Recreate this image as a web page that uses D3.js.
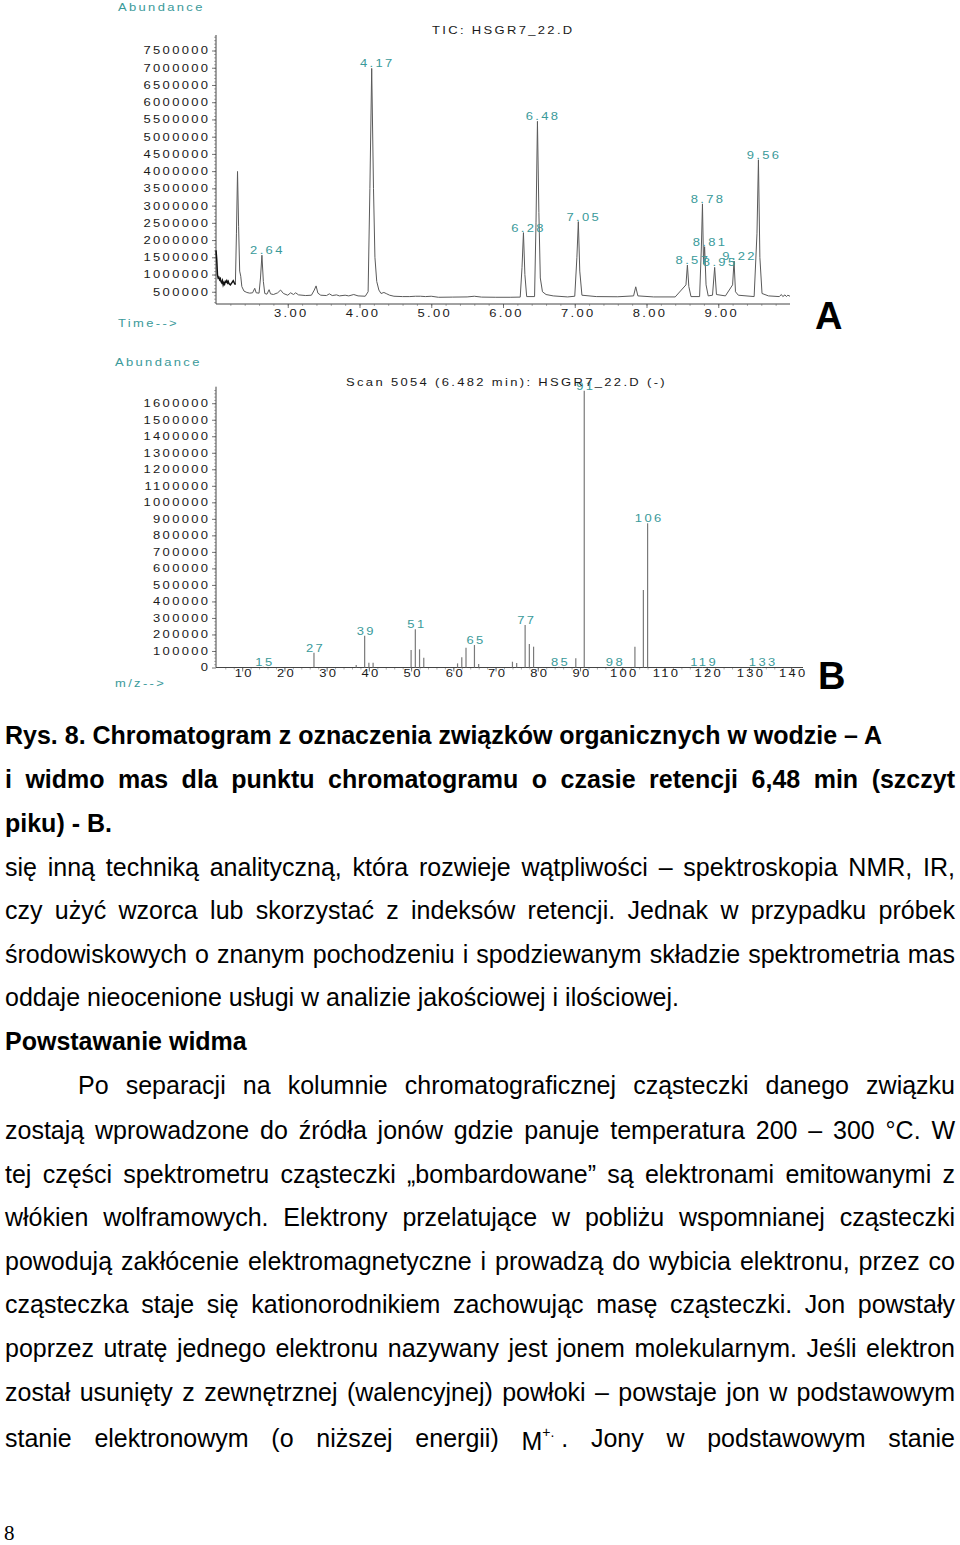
<!DOCTYPE html>
<html><head><meta charset="utf-8">
<script src="https://cdn.jsdelivr.net/npm/d3@7"></script>
<style>
html,body{margin:0;padding:0;background:#fff;}
svg{display:block;}
</style></head><body>
<svg id="page" width="960" height="1545"></svg>
<script>
// ---------------- DATA ----------------
// Chromatogram (TIC) trace: retention time (min) and abundance
const rtTrace = [2.000,2.010,2.020,2.030,2.040,2.050,2.060,2.070,2.080,2.090,2.100,2.110,2.120,2.130,2.140,2.150,2.160,2.170,2.180,2.190,2.200,2.220,2.240,2.255,2.270,
  2.285,2.300,2.315,2.330,2.345,2.360,2.390,2.430,2.470,2.510,2.540,2.560,2.600,2.620,2.640,2.660,2.680,2.710,2.740,2.760,2.800,2.860,2.900,2.940,3.000,3.040,3.080,3.110,3.150,3.250,3.330,3.370,3.395,3.420,3.460,3.540,3.580,3.620,3.680,3.720,3.800,3.850,3.920,3.980,4.080,4.120,4.145,4.170,4.195,4.215,4.240,4.270,4.300,4.340,4.380,4.420,4.480,4.600,4.700,4.780,4.850,4.920,5.000,5.100,5.300,5.500,5.600,5.700,5.900,6.100,6.240,6.265,6.285,6.305,6.330,6.440,6.460,6.480,6.500,6.520,6.550,6.600,6.700,6.900,7.000,7.030,7.050,7.070,7.100,7.300,7.600,7.820,7.850,7.880,8.100,8.400,8.550,8.570,8.590,8.620,8.740,8.765,8.780,8.795,8.810,8.830,8.860,8.920,8.950,8.975,9.100,9.200,9.220,9.240,9.280,9.500,9.540,9.560,9.580,9.610,9.700,9.850,9.880,9.900,9.930,9.950,9.970,10.000];
const abTrace = [1700000,1450000,1000000,900000,920000,850000,880000,790000,760000,820000,700000,760000,720000,800000,780000,820000,760000,800000,740000,720000,700000,760000,820000,760000,710000,
  2200000,3990000,2400000,1100000,950000,650000,520000,480000,460000,470000,600000,470000,460000,900000,1560000,800000,450000,430000,560000,440000,420000,470000,550000,450000,400000,470000,420000,470000,410000,390000,400000,550000,670000,460000,400000,390000,440000,390000,410000,380000,400000,380000,420000,380000,370000,500000,3500000,6980000,3500000,1500000,800000,550000,450000,480000,440000,400000,370000,360000,360000,370000,370000,360000,370000,340000,345000,350000,370000,345000,340000,340000,345000,1200000,2215000,1000000,360000,360000,2500000,5444000,2800000,900000,500000,420000,380000,350000,370000,1500000,2535000,1100000,400000,360000,355000,380000,644000,380000,350000,350000,700000,1276000,650000,360000,360000,1800000,3050000,1300000,1808000,700000,380000,400000,1208000,420000,380000,700000,1392000,500000,400000,360000,2200000,4330000,1500000,450000,380000,360000,420000,360000,410000,360000,400000,370000];
const peakLabelRT = [2.64, 4.17, 6.28, 6.48, 7.05, 8.57, 8.78, 8.81, 8.95, 9.22, 9.56];
const rtTickValues = [3, 4, 5, 6, 7, 8, 9];
const abTickValuesA = [500000,1000000,1500000,2000000,2500000,3000000,3500000,4000000,4500000,5000000,5500000,6000000,6500000,7000000,7500000];

// Mass spectrum (scan 5054, 6.482 min)
const mzValues    = [15, 27, 37, 39, 40, 41, 50, 51, 52, 53, 61, 62, 63, 65, 66, 74, 75, 77, 78, 79, 85, 89, 91, 98, 103, 105, 106, 119, 133];
const mzIntensity = [4000, 90000, 15000, 192000, 29000, 29000, 106000, 231000, 110000, 59000, 25000, 62000, 120000, 136000, 21000, 35000, 27000, 257000, 142000, 126000, 4000, 56000, 1675000, 4000, 126000, 469000, 873000, 3000, 3000];
const mzLabelled  = [15, 27, 39, 51, 65, 77, 85, 91, 98, 106, 119, 133];
const mzTickValues = [10,20,30,40,50,60,70,80,90,100,110,120,130,140];
const abTickValuesB = [0,100000,200000,300000,400000,500000,600000,700000,800000,900000,1000000,1100000,1200000,1300000,1400000,1500000,1600000];

// Text of the page
const captionLines = [
  {text: "Rys. 8. Chromatogram z oznaczenia związków organicznych w wodzie – A", justify: false, bold: true, x: 5, y: 744},
  {text: "i widmo mas dla punktu chromatogramu o czasie retencji 6,48 min (szczyt", justify: true, bold: true, x: 5, y: 788},
  {text: "piku) - B.", justify: false, bold: true, x: 5, y: 832}
];
const bodyLines = [
  {text: "się inną techniką analityczną, która rozwieje wątpliwości – spektroskopia NMR, IR,", justify: true, x: 5, y: 876},
  {text: "czy użyć wzorca lub skorzystać z indeksów retencji. Jednak w przypadku próbek", justify: true, x: 5, y: 919},
  {text: "środowiskowych o znanym pochodzeniu i spodziewanym składzie spektrometria mas", justify: true, x: 5, y: 963},
  {text: "oddaje nieocenione usługi w analizie jakościowej i ilościowej.", justify: false, x: 5, y: 1006},
  {text: "Powstawanie widma", justify: false, bold: true, x: 5, y: 1050},
  {text: "Po separacji na kolumnie chromatograficznej cząsteczki danego związku", justify: true, x: 78, y: 1094},
  {text: "zostają wprowadzone do źródła jonów gdzie panuje temperatura 200 – 300 °C. W", justify: true, x: 5, y: 1139},
  {text: "tej części spektrometru cząsteczki „bombardowane” są elektronami emitowanymi z", justify: true, x: 5, y: 1183},
  {text: "włókien wolframowych. Elektrony przelatujące w pobliżu wspomnianej cząsteczki", justify: true, x: 5, y: 1226},
  {text: "powodują zakłócenie elektromagnetyczne i prowadzą do wybicia elektronu, przez co", justify: true, x: 5, y: 1270},
  {text: "cząsteczka staje się kationorodnikiem zachowując masę cząsteczki. Jon powstały", justify: true, x: 5, y: 1313},
  {text: "poprzez utratę jednego elektronu nazywany jest jonem molekularnym. Jeśli elektron", justify: true, x: 5, y: 1357},
  {text: "został usunięty z zewnętrznej (walencyjnej) powłoki – powstaje jon w podstawowym", justify: true, x: 5, y: 1401},
  {text: "stanie elektronowym (o niższej energii) [M] Jony w podstawowym stanie", justify: true, x: 5, y: 1447}
];

// ---------------- DRAWING ----------------
const svg = d3.select('#page');
const TEAL = '#3a9a9a';
const CF = "'Liberation Sans', Arial, Helvetica, sans-serif";
const SX = 1.3, LS = 1.8, FS = 10;

function chartText(parent, str, x, y, anchor, fill) {
  return parent.append('text')
    .attr('transform', `translate(${x},${y}) scale(${SX},1)`)
    .attr('font-family', CF).attr('font-size', FS).attr('letter-spacing', LS)
    .attr('text-anchor', anchor || 'start').attr('fill', fill || '#1a1a1a')
    .text(str);
}
function styleTicks(g, isLeft) {
  g.select('.domain').remove();
  g.selectAll('.tick line').attr('stroke', '#555').attr('stroke-width', 0.8);
  g.selectAll('.tick text')
    .attr('font-family', CF).attr('font-size', FS).attr('letter-spacing', LS).attr('fill', '#1a1a1a')
    .attr('transform', `scale(${SX},1)`);
  if (isLeft) g.selectAll('.tick text').attr('x', -4.3).attr('dy', '0.34em');
  else g.selectAll('.tick text').attr('x', 2.4).attr('y', 5.5).attr('dy', '0.71em');
}

// ===== Chart A: chromatogram =====
const gA = svg.append('g');
const xA = d3.scaleLinear().domain([2.0, 10.0]).range([216, 790]);
const yA = d3.scaleLinear().domain([145000, 7950000]).range([304, 35]);

// minor ticks
gA.append('g').attr('transform', 'translate(216,0)')
  .call(d3.axisLeft(yA).tickValues(d3.range(200000, 7950000, 100000)).tickSize(2).tickFormat(''))
  .call(g => { g.select('.domain').remove(); g.selectAll('line').attr('stroke', '#777').attr('stroke-width', 0.6); });
gA.append('g').attr('transform', 'translate(0,304)')
  .call(d3.axisBottom(xA).tickValues(d3.range(2.2, 10.0, 0.2)).tickSize(2).tickFormat(''))
  .call(g => { g.select('.domain').remove(); g.selectAll('line').attr('stroke', '#777').attr('stroke-width', 0.6); });
// major ticks
gA.append('g').attr('transform', 'translate(216,0)')
  .call(d3.axisLeft(yA).tickValues(abTickValuesA).tickSize(4).tickPadding(0).tickFormat(d3.format('d')))
  .call(g => styleTicks(g, true));
gA.append('g').attr('transform', 'translate(0,304)')
  .call(d3.axisBottom(xA).tickValues(rtTickValues).tickSize(4).tickFormat(d3.format('.2f')))
  .call(g => styleTicks(g, false));
// axis lines
gA.append('line').attr('x1', xA(2.0)).attr('x2', xA(10.0)).attr('y1', 304).attr('y2', 304).attr('stroke', '#444');
gA.append('line').attr('x1', 216).attr('x2', 216).attr('y1', yA(145000)).attr('y2', yA(7950000)).attr('stroke', '#444');

const tracePts = rtTrace.map((t, i) => [t, abTrace[i]]);
const lineA = d3.line().x(d => xA(d[0])).y(d => yA(d[1]));
gA.append('path').datum(tracePts.filter(d => d[0] >= 2.265))
  .attr('d', lineA).attr('fill', 'none').attr('stroke', '#5a5a5a').attr('stroke-width', 1);
gA.append('path').datum(tracePts.filter(d => d[0] <= 2.27))
  .attr('d', lineA).attr('fill', 'none').attr('stroke', '#111').attr('stroke-width', 1.5);

peakLabelRT.forEach(rt => {
  let best = tracePts[0];
  tracePts.forEach(p => { if (Math.abs(p[0] - rt) < Math.abs(best[0] - rt)) best = p; });
  chartText(gA, rt.toFixed(2), xA(rt) + 5.5, yA(best[1]) - 1, 'middle', TEAL);
});

chartText(gA, 'Abundance', 118, 11, 'start', TEAL);
chartText(gA, 'Time-->', 118, 327, 'start', TEAL);
chartText(gA, 'TIC: HSGR7_22.D', 432, 34, 'start', '#1a1a1a');
svg.append('text').attr('x', 815).attr('y', 329).attr('font-family', CF).attr('font-weight', 700)
  .attr('font-size', 38).attr('fill', '#000').text('A');

// ===== Chart B: mass spectrum =====
const gB = svg.append('g');
const xB = d3.scaleLinear().domain([3.8, 142.8]).range([216, 803]);
const yB = d3.scaleLinear().domain([0, 1700000]).range([667.5, 386.7]);

gB.append('g').attr('transform', 'translate(216,0)')
  .call(d3.axisLeft(yB).tickValues(d3.range(20000, 1700000, 20000)).tickSize(2).tickFormat(''))
  .call(g => { g.select('.domain').remove(); g.selectAll('line').attr('stroke', '#888').attr('stroke-width', 0.6); });
gB.append('g').attr('transform', 'translate(0,667.5)')
  .call(d3.axisBottom(xB).tickValues(d3.range(6, 142, 2)).tickSize(2).tickFormat(''))
  .call(g => { g.select('.domain').remove(); g.selectAll('line').attr('stroke', '#777').attr('stroke-width', 0.6); });
gB.append('g').attr('transform', 'translate(216,0)')
  .call(d3.axisLeft(yB).tickValues(abTickValuesB).tickSize(4).tickPadding(0).tickFormat(d3.format('d')))
  .call(g => styleTicks(g, true));
gB.append('g').attr('transform', 'translate(0,667.5)')
  .call(d3.axisBottom(xB).tickValues(mzTickValues).tickSize(4).tickFormat(d3.format('d')))
  .call(g => { styleTicks(g, false); g.selectAll('.tick text').attr('x', 1.2).attr('y', 2.5); });
gB.append('line').attr('x1', xB(3.8)).attr('x2', xB(142.8)).attr('y1', 667.5).attr('y2', 667.5).attr('stroke', '#444');
gB.append('line').attr('x1', 216).attr('x2', 216).attr('y1', yB(0)).attr('y2', yB(1700000)).attr('stroke', '#444');

gB.selectAll('line.bar').data(mzValues.map((m, i) => [m, mzIntensity[i]])).enter()
  .append('line').attr('class', 'bar')
  .attr('x1', d => xB(d[0])).attr('x2', d => xB(d[0]))
  .attr('y1', yB(0)).attr('y2', d => yB(d[1]))
  .attr('stroke', '#7a7a7a').attr('stroke-width', 1.2);

mzLabelled.forEach(m => {
  const v = mzIntensity[mzValues.indexOf(m)];
  chartText(gB, String(m), xB(m) + 1.6, yB(v) - 1, 'middle', TEAL);
});

chartText(gB, 'Abundance', 115, 366, 'start', TEAL);
chartText(gB, 'm/z-->', 115, 687, 'start', TEAL);
chartText(gB, 'Scan 5054 (6.482 min): HSGR7_22.D (-)', 346, 386, 'start', '#1a1a1a');
svg.append('text').attr('x', 818).attr('y', 689).attr('font-family', CF).attr('font-weight', 700)
  .attr('font-size', 38).attr('fill', '#000').text('B');

// ===== Text =====
const RIGHT = 955;
function drawLine(spec) {
  const g = svg.append('g').attr('font-family', CF).attr('font-size', 25)
    .attr('font-weight', spec.bold ? 700 : 400).attr('fill', '#000');
  if (!spec.justify) {
    g.append('text').attr('x', spec.x).attr('y', spec.y).text(spec.text);
    return;
  }
  const words = spec.text.split(' ');
  const nodes = words.map(w => {
    const t = g.append('text').attr('y', spec.y);
    if (w === '[M]') {
      t.append('tspan').text('M').attr('dy', 3);
      t.append('tspan').attr('font-size', 14).attr('dy', -13).text('+.');
      t.append('tspan').attr('dy', 10).text(' .');
    } else t.text(w);
    return t;
  });
  const widths = nodes.map(n => n.node().getComputedTextLength());
  const total = d3.sum(widths);
  const gap = (RIGHT - spec.x - total) / (nodes.length - 1);
  let x = spec.x;
  nodes.forEach((n, i) => { n.attr('x', x); x += widths[i] + gap; });
}
captionLines.forEach(drawLine);
bodyLines.forEach(drawLine);

svg.append('text').attr('x', 4).attr('y', 1540).attr('font-family', "'Liberation Serif', 'Times New Roman', serif")
  .attr('font-size', 21).attr('fill', '#000').text('8');
</script>
</body></html>
